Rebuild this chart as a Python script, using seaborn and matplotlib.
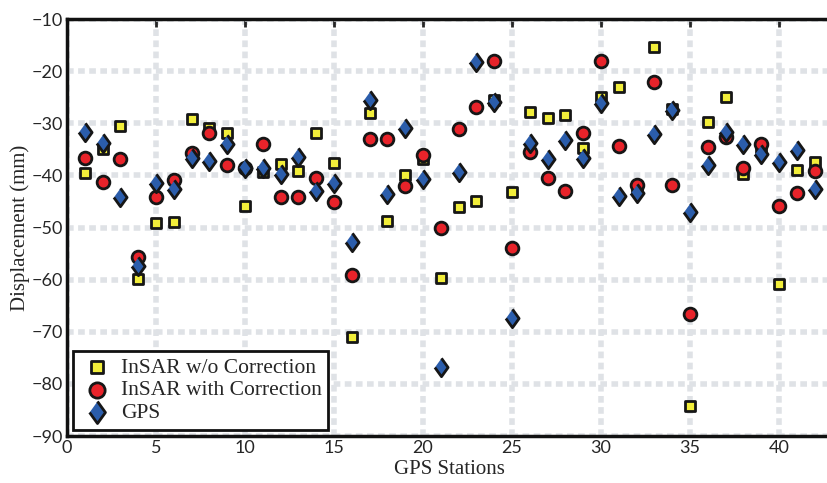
import matplotlib
matplotlib.use("Agg")
import matplotlib.pyplot as plt
import seaborn as sns

# station index and displacement readings (mm)
stations = list(range(1, 43))

insar_raw = [-39.6, -35.0, -30.5, -59.8, -49.2, -49.0, -29.2, -31.0, -31.9, -45.8,
             -39.4, -37.8, -39.2, -31.9, -37.6, -71.0, -28.0, -48.7, -39.9, -36.8,
             -59.6, -46.1, -45.0, -25.5, -43.2, -27.8, -28.9, -28.4, -34.8, -25.0,
             -23.1, -42.5, -15.4, -27.3, -84.3, -29.8, -25.0, -39.8, -34.8, -60.8,
             -39.0, -37.4]

insar_corr = [-36.7, -41.2, -36.9, -55.6, -44.2, -40.8, -35.7, -31.8, -38.1, -38.6,
              -34.0, -44.1, -44.1, -40.5, -45.1, -59.2, -33.1, -33.1, -42.0, -36.1,
              -50.0, -31.1, -26.8, -18.0, -54.0, -35.6, -40.5, -43.0, -31.9, -18.0,
              -34.4, -41.9, -22.1, -41.9, -66.6, -34.5, -32.6, -38.5, -34.0, -45.8,
              -43.3, -39.2]

gps = [-31.6, -33.8, -44.1, -57.4, -41.4, -42.6, -36.6, -37.3, -34.0, -38.6,
       -38.6, -39.8, -36.5, -43.0, -41.4, -52.8, -25.5, -43.6, -30.9, -40.6,
       -76.7, -39.4, -18.2, -25.9, -67.4, -33.7, -36.9, -33.2, -36.7, -26.1,
       -44.0, -43.3, -32.1, -27.5, -47.1, -38.0, -31.6, -34.0, -35.9, -37.4,
       -35.1, -42.6]

labels = ["InSAR w/o Correction", "InSAR with Correction", "GPS"]

sns.set_style("white")
plt.rcParams['font.family'] = ['Lato', 'DejaVu Sans']

fig = plt.figure(figsize=(8.27, 4.83), dpi=100)
ax = fig.add_axes([67 / 827, 47 / 483, 801 / 827, 417 / 483])

edge = '#161616'
diamond = [(0, 1), (0.72, 0), (0, -1), (-0.72, 0)]

sns.scatterplot(x=stations, y=insar_raw, marker='s', s=60, color='#f2ee3a',
                edgecolor=edge, linewidth=2.0, label=labels[0], ax=ax, zorder=3)
sns.scatterplot(x=stations, y=insar_corr, marker='o', s=84, color='#e8232a',
                edgecolor=edge, linewidth=2.0, label=labels[1], ax=ax, zorder=4)
sns.scatterplot(x=stations, y=gps, marker=diamond, s=175, color='#2b5dab',
                edgecolor=edge, linewidth=2.0, label=labels[2], ax=ax, zorder=5)

ax.set_xlim(0, 45)
ax.set_ylim(-90, -10)
ax.set_xticks(range(0, 45, 5))
ax.set_yticks(range(-90, 0, 10))
ax.set_xticklabels([str(v) for v in range(0, 45, 5)])

# soft dotted grid like the original figure
ax.grid(True, color='#dfe2e6', linestyle=(0, (1.2, 0.8)), linewidth=4)
ax.set_axisbelow(True)

for sp in ax.spines.values():
    sp.set_linewidth(2.5)
    sp.set_color('#111111')

ax.tick_params(direction='in', length=6, width=2, top=True, right=True,
               labelsize=13, pad=3)

serif = {'family': 'Liberation Serif', 'size': 15}
ax.set_xlabel('GPS Stations', fontdict=serif, labelpad=0)
ax.xaxis.set_label_coords(0.478, -0.058, transform=ax.transAxes)
ax.xaxis.label.set_va('top')
ax.set_ylabel('Displacement (mm)', fontdict=serif, labelpad=1)

leg = ax.legend(loc='lower left', frameon=True, fancybox=False, framealpha=1,
                edgecolor='#111111', prop={'family': 'Liberation Serif', 'size': 15.5},
                borderaxespad=0.3, handletextpad=0.3, labelspacing=0.12,
                borderpad=0.3, handlelength=1.6, markerscale=1.2)
leg.get_frame().set_linewidth(2)

fig.savefig('out.png', dpi=100)
